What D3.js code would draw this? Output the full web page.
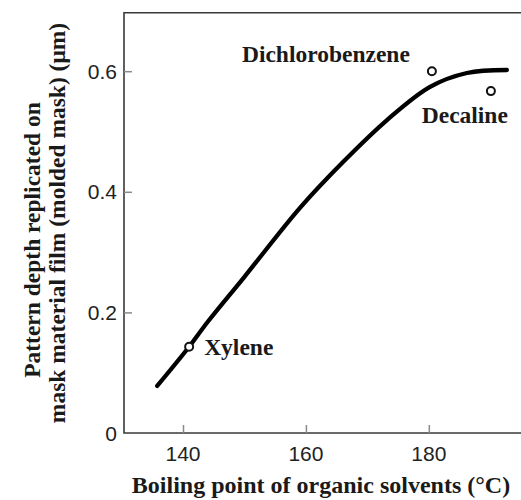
<!DOCTYPE html>
<html>
<head>
<meta charset="utf-8">
<script src="https://cdn.jsdelivr.net/npm/d3@7"></script>
<style>
  body { margin: 0; background: #fff; }
  svg { display: block; }
</style>
</head>
<body>
<svg id="chart" width="521" height="500"></svg>
<script>
// fitted curve
var curveX = [135.8, 141, 144, 150, 159, 166, 173.2, 180.2, 186.2, 192.7];
var curveY = [0.078, 0.143, 0.184, 0.259, 0.373, 0.449, 0.519, 0.574, 0.597, 0.602];

// measured solvents
var solventNames = ['Xylene', 'Dichlorobenzene', 'Decaline'];
var boilingPoints = [141, 180.5, 190.1];
var patternDepths = [0.143, 0.600, 0.567];

var xTicks = [140, 160, 180];
var yTicks = [0, 0.2, 0.4, 0.6];
var xTitle = 'Boiling point of organic solvents (\u00B0C)';
var yTitle = ['Pattern depth replicated on', 'mask material film (molded mask) (\u03BCm)'];

function drawChart() {
    let svg = d3.select('#chart');
    var left = 124, top = 12.7, right = 521, bottom = 433;

    var x = d3.scaleLinear()
            .domain([130.4, 195])
            .range([left, right]);
    var y = d3.scaleLinear()
            .domain([0, 0.697])
            .range([bottom, top]);

    // frame: top, left, bottom
    svg.append('path')
        .attr('d', 'M' + right + ',' + top + 'H' + left + 'V' + bottom + 'H' + right)
        .style('fill', 'none')
        .style('stroke', '#3a3a3a')
        .style('stroke-width', '1.6px');

    // inner ticks
    var xAxis = svg.append('g')
        .attr('transform', 'translate(0,' + bottom + ')')
        .call(d3.axisTop(x).tickValues(xTicks).tickSize(8).tickFormat(''));
    var yAxis = svg.append('g')
        .attr('transform', 'translate(' + left + ',0)')
        .call(d3.axisRight(y).tickValues(yTicks.filter(function(d) { return d > 0; }))
              .tickSize(8).tickFormat(''));
    [xAxis, yAxis].forEach(function(a) {
        a.select('.domain').remove();
        a.selectAll('line').style('stroke', '#8a8a8a').style('stroke-width', '1.5px');
    });

    // tick labels
    svg.selectAll('text.xTick')
        .data(xTicks).enter()
        .append('text')
        .attr('class', 'xTick')
        .attr('x', function(d) { return x(d); })
        .attr('y', 461)
        .attr('text-anchor', 'middle')
        .style('font-family', '"Liberation Sans", Arial, sans-serif')
        .style('font-size', '21px')
        .style('fill', '#222')
        .text(function(d) { return d; });
    svg.selectAll('text.yTick')
        .data(yTicks).enter()
        .append('text')
        .attr('class', 'yTick')
        .attr('x', 117)
        .attr('y', function(d) { return y(d); })
        .attr('dy', '0.36em')
        .attr('text-anchor', 'end')
        .style('font-family', '"Liberation Sans", Arial, sans-serif')
        .style('font-size', '21px')
        .style('fill', '#222')
        .text(function(d) { return d === 0 ? '0' : d3.format('.1f')(d); });

    // curve
    var lineGen = d3.line()
                    .x(function(d) { return x(d[0]); })
                    .y(function(d) { return y(d[1]); })
                    .curve(d3.curveCatmullRom.alpha(0.5));
    svg.append('path')
        .attr('d', lineGen(d3.zip(curveX, curveY)))
        .style('fill', 'none')
        .style('stroke', '#000')
        .style('stroke-width', '4.3px')
        .style('stroke-linecap', 'round');

    // measured points
    var pts = d3.zip(solventNames, boilingPoints, patternDepths);
    svg.selectAll('circle.pt')
        .data(pts).enter()
        .append('circle')
        .attr('class', 'pt')
        .attr('cx', function(d) { return x(d[1]); })
        .attr('cy', function(d) { return y(d[2]); })
        .attr('r', 4)
        .style('fill', '#fff')
        .style('stroke', '#111')
        .style('stroke-width', '2px');

    // labels next to points
    var offs = { 'Xylene': [15, 8, 'start'], 'Dichlorobenzene': [-22, -9, 'end'], 'Decaline': [17, 32, 'end'] };
    svg.selectAll('text.ptLabel')
        .data(pts).enter()
        .append('text')
        .attr('class', 'ptLabel')
        .attr('x', function(d) { return x(d[1]) + offs[d[0]][0]; })
        .attr('y', function(d) { return y(d[2]) + offs[d[0]][1]; })
        .attr('text-anchor', function(d) { return offs[d[0]][2]; })
        .style('font-family', '"Liberation Serif", "Times New Roman", serif')
        .style('font-weight', 'bold')
        .style('font-size', '23.5px')
        .style('fill', '#1a1a1a')
        .text(function(d) { return d[0]; });

    // axis titles
    svg.append('text')
        .attr('x', 321)
        .attr('y', 493)
        .attr('text-anchor', 'middle')
        .style('font-family', '"Liberation Serif", "Times New Roman", serif')
        .style('font-weight', 'bold')
        .style('font-size', '24px')
        .style('fill', '#1a1a1a')
        .text(xTitle);
    var yPos = [[40, 240], [65, 223]];
    yTitle.forEach(function(t, i) {
        svg.append('text')
            .attr('transform', 'translate(' + yPos[i][0] + ',' + yPos[i][1] + ') rotate(-90)')
            .attr('text-anchor', 'middle')
            .style('font-family', '"Liberation Serif", "Times New Roman", serif')
            .style('font-weight', 'bold')
            .style('font-size', '23.5px')
            .style('fill', '#1a1a1a')
            .text(t);
    });
}

drawChart();
</script>
</body>
</html>
